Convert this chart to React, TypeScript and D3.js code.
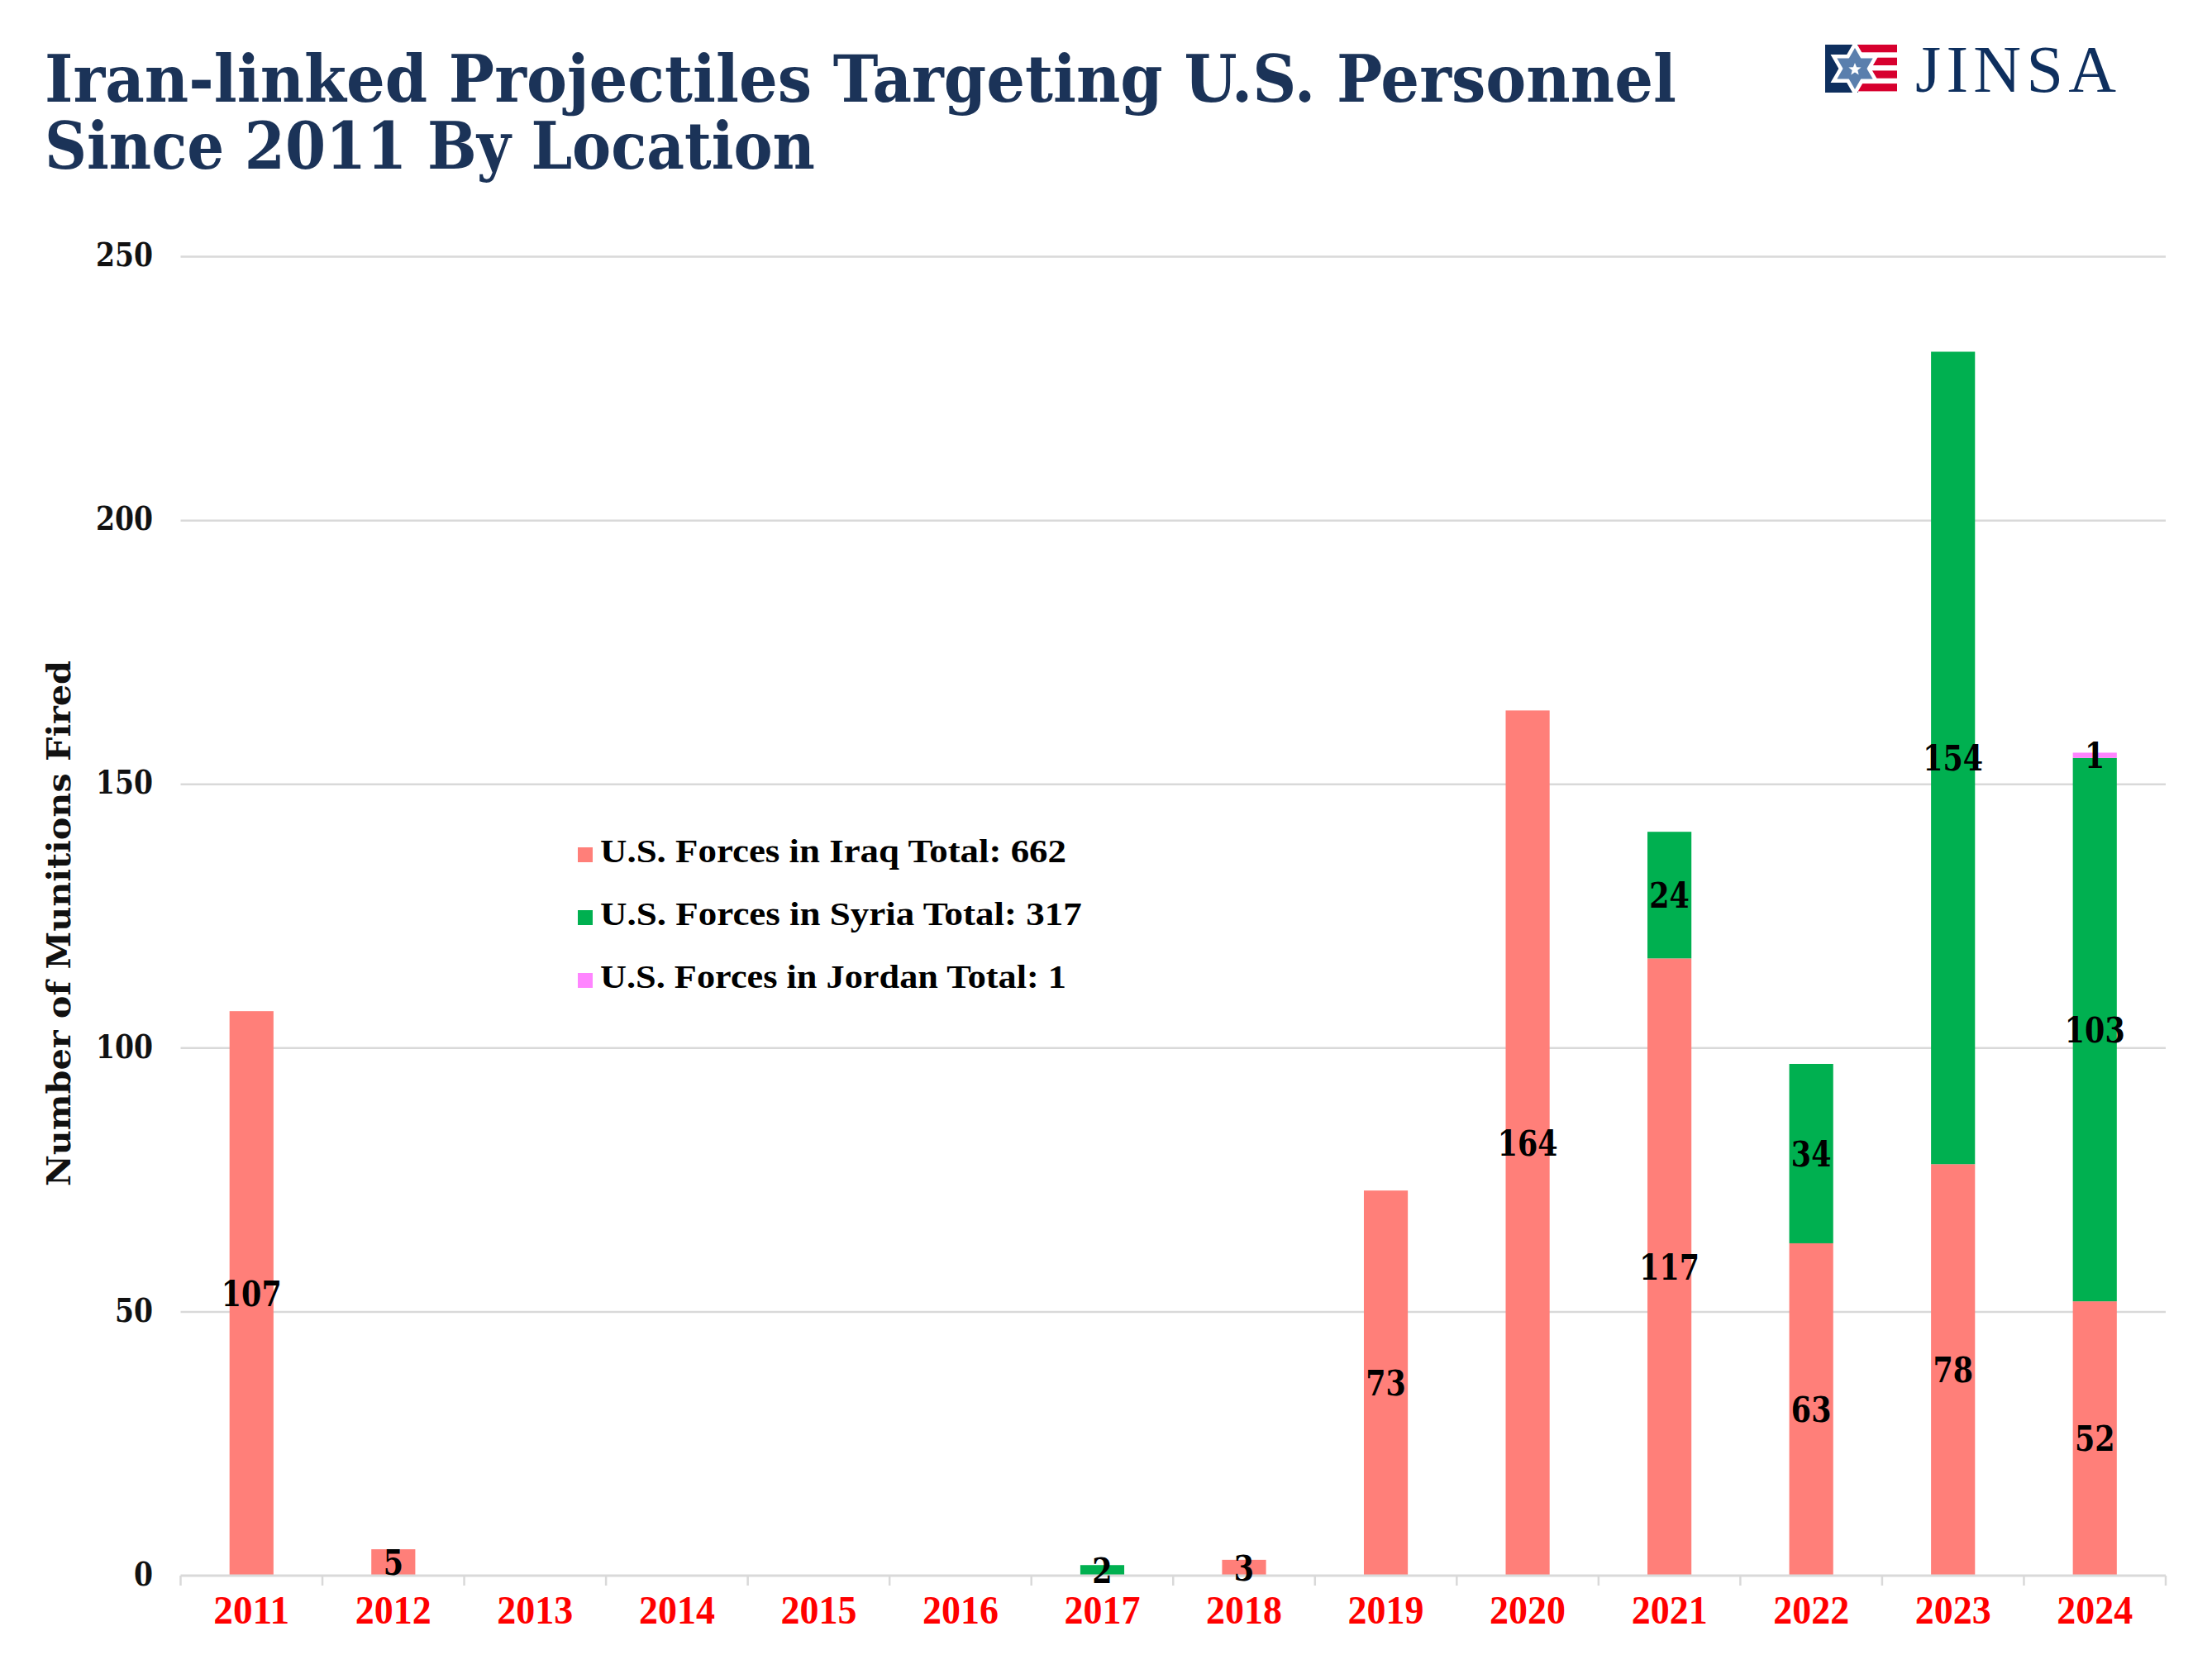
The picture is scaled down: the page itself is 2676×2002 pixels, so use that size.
import React from "react";
import * as d3 from "d3";

const years = ["2011","2012","2013","2014","2015","2016","2017","2018","2019","2020","2021","2022","2023","2024"];
const iraq =   [107, 5, 0, 0, 0, 0, 0, 3, 73, 164, 117, 63, 78, 52];
const syria =  [0, 0, 0, 0, 0, 0, 2, 0, 0, 0, 24, 34, 154, 103];
const jordan = [0, 0, 0, 0, 0, 0, 0, 0, 0, 0, 0, 0, 0, 1];
const seriesNames = ["U.S. Forces in Iraq Total: 662", "U.S. Forces in Syria Total: 317", "U.S. Forces in Jordan Total: 1"];
const seriesColors = ["#FF7F79", "#00B050", "#FF85FF"];
const yTicks = [0, 50, 100, 150, 200, 250];
const titleLines = ["Iran-linked Projectiles Targeting U.S. Personnel", "Since 2011 By Location"];
const yTitle = "Number of Munitions Fired";

const W = 2676, H = 2002;
const plotLeft = 218.5, plotRight = 2620, plotTop = 310.6, plotBottom = 1906;

export default function App() {
  const x = d3.scaleBand().domain(years).range([plotLeft, plotRight]).paddingInner(0.69).paddingOuter(0.345);
  const y = d3.scaleLinear().domain([0, 250]).range([plotBottom, plotTop]);
  const rows = years.map((yr, i) => ({ year: yr, iraq: iraq[i], syria: syria[i], jordan: jordan[i] }));
  const keys = ["iraq", "syria", "jordan"];
  const stack = d3.stack<any>().keys(keys)(rows);
  const step = x.step();
  const navy = "#1B3358";

  return (
    <svg width={W} height={H} style={{ position: "absolute", left: 0, top: 0, background: "#fff" }}>
      <rect x={0} y={0} width={W} height={H} fill="#fff" />
      {/* Title */}
      <text fontFamily="DejaVu Serif" fontWeight="bold" fontSize={78} fill={navy}>
        <tspan x={54} y={123} textLength={1974} lengthAdjust="spacingAndGlyphs">{titleLines[0]}</tspan>
        <tspan x={54} y={204} textLength={932} lengthAdjust="spacingAndGlyphs">{titleLines[1]}</tspan>
      </text>

      {/* Logo */}
      <g>
        <rect x={2208} y={54} width={40} height={58} fill="#0E2F5E" />
        {[0, 1, 2, 3].map(k => (
          <rect key={k} x={2248} y={54 + k * 15.7} width={47} height={9.3} fill="#D7002E" />
        ))}
        {[0, 1].map(t => (
          <polygon key={"w" + t} fill="#fff" points={d3.range(3).map(k => { const a = (t ? Math.PI / 2 : -Math.PI / 2) + k * 2 * Math.PI / 3; return [2244 + 34 * Math.cos(a), 83 + 34 * Math.sin(a)].join(","); }).join(" ")} />
        ))}
        {[0, 1].map(t => (
          <polygon key={"b" + t} fill="#5A7FAD" points={d3.range(3).map(k => { const a = (t ? Math.PI / 2 : -Math.PI / 2) + k * 2 * Math.PI / 3; return [2244 + 25 * Math.cos(a), 83 + 25 * Math.sin(a)].join(","); }).join(" ")} />
        ))}
        <polygon fill="#fff" points={d3.range(10).map(k => { const a = -Math.PI / 2 + k * Math.PI / 5; const r = k % 2 ? 3.5 : 8; return [2244 + r * Math.cos(a), 84 + r * Math.sin(a)].join(","); }).join(" ")} />
        <text x={2317} y={111} fontFamily="Liberation Serif" fontSize={80} fill="#0E2F5E"
          textLength={243} lengthAdjust="spacing">JINSA</text>
      </g>

      {/* Gridlines */}
      {yTicks.filter(t => t > 0).map(t => (
        <line key={t} x1={plotLeft} x2={plotRight} y1={y(t)} y2={y(t)} stroke="#D9D9D9" strokeWidth={2.5} />
      ))}
      {/* Y tick labels */}
      {yTicks.map(t => (
        <text key={"l" + t} x={185} y={y(t)} dy="0.3em" textAnchor="end" fontFamily="DejaVu Serif" fontWeight="bold"
          fontSize={39} fill="#111" textLength={String(t).length * 23} lengthAdjust="spacingAndGlyphs">{t}</text>
      ))}
      {/* Y title */}
      <text transform={`translate(71,1117) rotate(-90)`} textAnchor="middle" dy="0.35em" fontFamily="DejaVu Serif"
        fontWeight="bold" fontSize={40} fill="#111" textLength={636} lengthAdjust="spacingAndGlyphs">{yTitle}</text>

      {/* Bars */}
      {stack.map((s, si) => (
        <g key={si} fill={seriesColors[si]}>
          {s.map((d: any, i: number) => (d[1] - d[0] > 0 ?
            <rect key={i} x={x(years[i])} y={y(d[1])} width={x.bandwidth()} height={y(d[0]) - y(d[1])} /> : null))}
        </g>
      ))}

      {/* X axis */}
      <line x1={plotLeft} x2={plotRight} y1={plotBottom} y2={plotBottom} stroke="#D9D9D9" strokeWidth={3} />
      {d3.range(years.length + 1).map(k => (
        <line key={k} x1={plotLeft + k * step} x2={plotLeft + k * step} y1={plotBottom} y2={plotBottom + 12} stroke="#D9D9D9" strokeWidth={2.5} />
      ))}
      {years.map(yr => (
        <text key={yr} x={(x(yr) as number) + x.bandwidth() / 2} y={1964} textAnchor="middle" fontFamily="Liberation Serif"
          fontWeight="bold" fontSize={48} fill="#FF0000" textLength={92} lengthAdjust="spacingAndGlyphs">{yr}</text>
      ))}

      {/* Bar labels */}
      {stack.map((s, si) => s.map((d: any, i: number) => {
        const v = d[1] - d[0];
        if (v <= 0) return null;
        return (
          <text key={si + "-" + i} x={(x(years[i]) as number) + x.bandwidth() / 2} y={y((d[0] + d[1]) / 2)} dy="0.36em"
            textAnchor="middle" fontFamily="DejaVu Serif" fontWeight="bold" fontSize={42} fill="#000"
            textLength={String(v).length * 24.3} lengthAdjust="spacingAndGlyphs">{v}</text>
        );
      }))}

      {/* Legend */}
      {seriesNames.map((n, k) => (
        <g key={n}>
          <rect x={699} y={1025 + k * 76} width={18} height={18} fill={seriesColors[k]} />
          <text x={726} y={1043 + k * 76} fontFamily="Liberation Serif" fontWeight="bold" fontSize={40} fill="#000"
            textLength={n.length * 18.8} lengthAdjust="spacingAndGlyphs">{n}</text>
        </g>
      ))}
    </svg>
  );
}
